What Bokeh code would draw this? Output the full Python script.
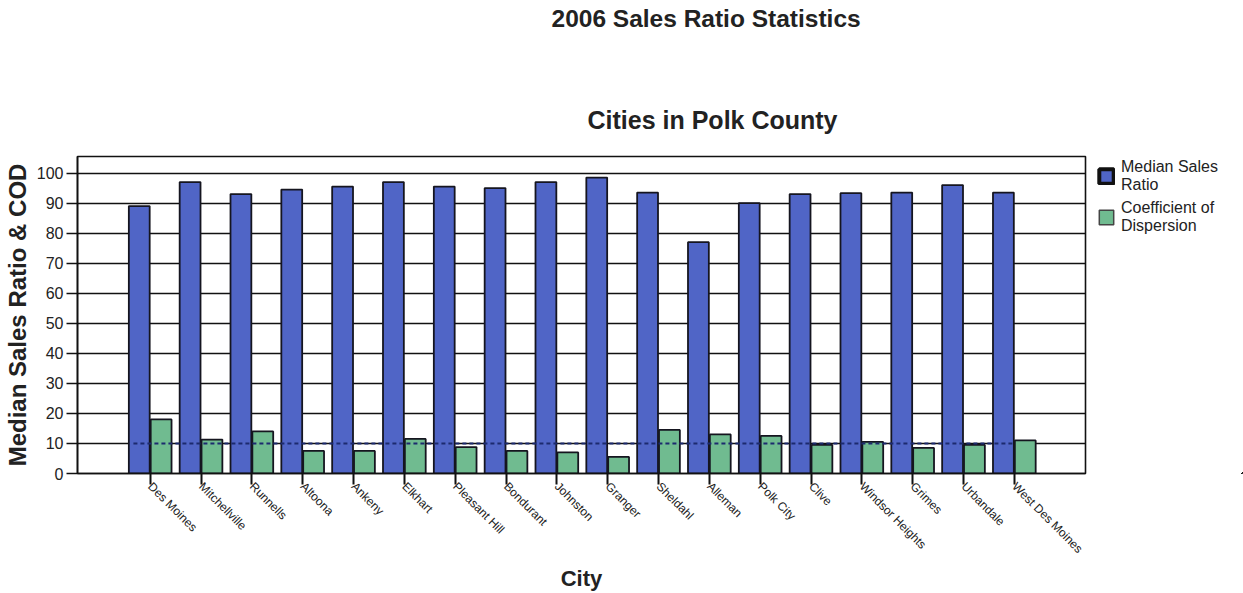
import math
from bokeh.plotting import figure
from bokeh.layouts import row
from bokeh.models import (Range1d, FixedTicker, Title, Legend, LegendItem,
                          ColumnDataSource)
from bokeh.embed import file_html
from bokeh.resources import INLINE

# ---- data ----
cities = ["Des Moines", "Mitchellville", "Runnells", "Altoona", "Ankeny",
          "Elkhart", "Pleasant Hill", "Bondurant", "Johnston", "Granger",
          "Sheldahl", "Alleman", "Polk City", "Clive", "Windsor Heights",
          "Grimes", "Urbandale", "West Des Moines"]
median_sales_ratio = [89, 97, 93, 94.5, 95.5, 97, 95.5, 95, 97, 98.5,
                      93.5, 77, 90, 93, 93.3, 93.5, 96, 93.5]
coefficient_of_dispersion = [18, 11.3, 14, 7.5, 7.5, 11.5, 8.8, 7.5, 7, 5.5,
                             14.5, 13, 12.5, 9.5, 10.5, 8.5, 9.5, 11]
reference_level = 10
y_ticks = list(range(0, 101, 10))

title_text = "2006 Sales Ratio Statistics"
subtitle_text = "Cities in Polk County"
x_title = "City"
y_title = "Median Sales Ratio & COD"
legend_labels = ["Median Sales\nRatio", "Coefficient of\nDispersion"]

BLUE = "#5065c6"
GREEN = "#70bb90"
EDGE = "#15151f"
INK = "#222222"
FONT = "Liberation Sans"

idx = list(range(len(cities)))
src = ColumnDataSource(dict(
    x_msr=[i - 0.215 for i in idx],
    x_cod=[i + 0.215 for i in idx],
    msr=median_sales_ratio,
    cod=coefficient_of_dispersion,
))

H = 593
p = figure(width=1090, height=H, output_backend="svg", toolbar_location=None,
           x_range=Range1d(-1.43, 18.4), y_range=Range1d(0, 105.5),
           min_border_left=75, min_border_right=5, min_border_top=0,
           min_border_bottom=120)
p.background_fill_color = "white"
p.border_fill_color = "white"
p.outline_line_color = "#111111"
p.outline_line_width = 1.6

# titles: 'above' list runs from the frame outward; p.title is outermost
p.add_layout(Title(text=subtitle_text, align="left", offset=510,
                   vertical_align="bottom", text_font=FONT,
                   text_font_style="bold", text_font_size="25px",
                   text_color=INK, standoff=46), "above")
p.add_layout(Title(text=" ", text_font_size="10px", standoff=30), "above")
p.title = Title(text=title_text, align="left", offset=474, vertical_align="top",
                text_font=FONT, text_font_style="bold", text_font_size="24.5px",
                text_color=INK, standoff=8)

# grid
p.xgrid.grid_line_color = None
p.ygrid.grid_line_color = "#111111"
p.ygrid.grid_line_width = 1.6
p.ygrid.ticker = FixedTicker(ticks=y_ticks)

# bars
r1 = p.vbar(x="x_msr", top="msr", width=0.41, source=src,
            fill_color=BLUE, line_color=EDGE, line_width=1.8)
r2 = p.vbar(x="x_cod", top="cod", width=0.41, source=src,
            fill_color=GREEN, line_color=EDGE, line_width=1.8)

# dashed reference line
p.line(x=[idx[0] - 0.33, idx[-1]], y=[reference_level, reference_level],
       line_color="#1c2a6e", line_width=2, line_dash="4 3")

# y axis
yax = p.yaxis[0]
yax.ticker = FixedTicker(ticks=y_ticks)
yax.minor_tick_line_color = None
yax.major_tick_out = 11
yax.major_tick_in = 0
yax.major_tick_line_color = "#111111"
yax.major_tick_line_width = 1.6
yax.axis_line_color = "#111111"
yax.axis_line_width = 1.6
yax.major_label_text_font = FONT
yax.major_label_text_font_size = "16px"
yax.major_label_text_color = INK
yax.major_label_standoff = 3
yax.axis_label = y_title
yax.axis_label_text_font = FONT
yax.axis_label_text_font_style = "bold"
yax.axis_label_text_font_size = "24px"
yax.axis_label_text_color = INK
yax.axis_label_standoff = 3

# x axis
xax = p.xaxis[0]
xax.ticker = FixedTicker(ticks=idx)
xax.major_label_overrides = {i: c for i, c in zip(idx, cities)}
xax.major_label_orientation = -math.pi / 4
xax.minor_tick_line_color = None
xax.major_tick_out = 11
xax.major_tick_in = 0
xax.major_tick_line_color = "#111111"
xax.major_tick_line_width = 2
xax.axis_line_color = "#111111"
xax.axis_line_width = 1.6
xax.major_label_text_font = FONT
xax.major_label_text_font_size = "12px"
xax.major_label_text_color = INK
xax.major_label_standoff = 0
xax.axis_label = x_title
xax.axis_label_text_font = FONT
xax.axis_label_text_font_style = "bold"
xax.axis_label_text_font_size = "22px"
xax.axis_label_text_color = INK
xax.axis_label_standoff = 2

# legend panel (separate figure to the right; its frame aligns with the main frame)
lg = figure(width=153, height=H, output_backend="svg", toolbar_location=None,
            x_range=Range1d(-100, -99), y_range=Range1d(1000, 1001),
            x_axis_location=None, y_axis_location=None,
            min_border_left=0, min_border_right=0, min_border_top=0,
            min_border_bottom=0)
lg.outline_line_color = None
lg.grid.grid_line_color = None
lg.background_fill_color = "white"
lg.border_fill_color = "white"
k1 = lg.vbar(x="x_msr", top="msr", width=0.41, source=src,
             fill_color=BLUE, line_color="#111111", line_width=4)
k2 = lg.vbar(x="x_cod", top="cod", width=0.41, source=src,
             fill_color=GREEN, line_color="#444444", line_width=1.5)
legend = Legend(items=[LegendItem(label=legend_labels[0], renderers=[k1]),
                       LegendItem(label=legend_labels[1], renderers=[k2])],
                location=(7, 238), orientation="vertical",
                label_text_font=FONT, label_text_font_size="16px",
                label_text_color=INK, label_standoff=6,
                glyph_width=18, glyph_height=18, spacing=5, padding=0,
                margin=0, border_line_color=None,
                background_fill_alpha=0, label_text_line_height=0.9)
lg.add_layout(legend)

open("out.html", "w").write(file_html(row(p, lg), INLINE))
